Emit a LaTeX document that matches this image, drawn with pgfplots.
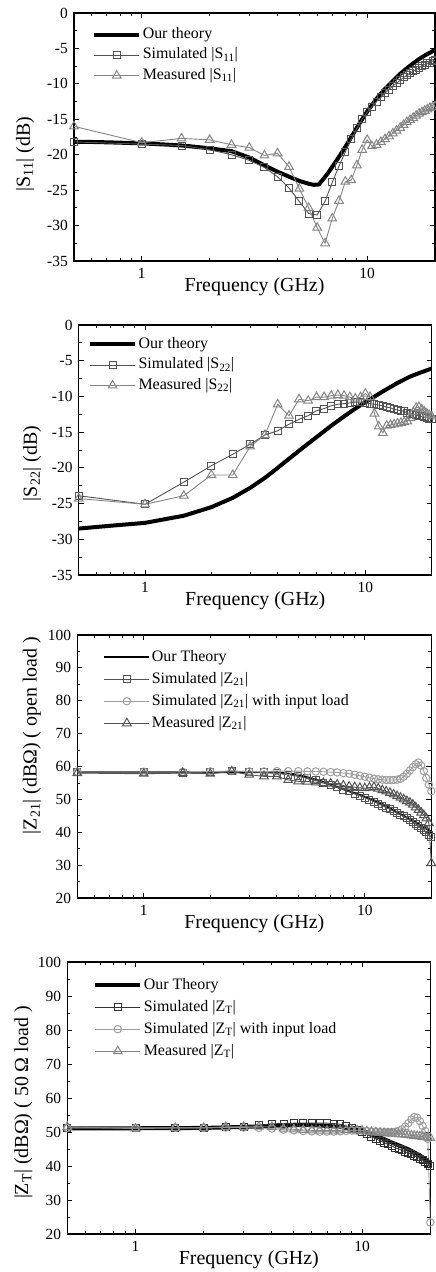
\documentclass[border=0pt]{standalone}
\usepackage{fontspec}
\setmainfont{Liberation Serif}
\usepackage{pgfplots}
\usepackage{pgfplotstable}
\pgfplotsset{compat=1.18}

\definecolor{simc}{gray}{0.33}
\definecolor{measc}{gray}{0.52}
\definecolor{circc}{gray}{0.62}

% ---------------- Panel 1: |S11| ----------------
\pgfplotstableread{
f v
0.5 -18.2
0.6 -18.2
0.7 -18.25
0.8 -18.3
1 -18.4
1.25 -18.55
1.5 -18.7
1.75 -18.9
2 -19.1
2.5 -19.5
3 -20.4
3.5 -21.5
4 -22.4
4.5 -23.1
5 -23.7
5.5 -24.1
5.8 -24.25
6.1 -24.2
6.4 -23.4
6.7 -22.6
7 -21.7
7.5 -20.3
8 -18.9
8.5 -17.5
9 -16.2
9.5 -15.0
10 -13.9
11 -12.1
12 -10.7
13 -9.6
14 -8.6
15 -7.8
16 -7.1
17 -6.5
18 -6.0
19 -5.6
20 -5.2
}\theoryA

\pgfplotstableread{
f sim meas
0.5 -18.2 -16.0
1.0 -18.5 -18.3
1.5 -18.7 -17.7
2.0 -19.3 -17.9
2.5 -20.0 -18.6
3.0 -20.8 -19.0
3.5 -21.8 -20.1
4.0 -23.1 -19.8
4.5 -24.7 -21.7
5.0 -26.6 -24.8
5.5 -28.3 -27.5
6.0 -28.5 -30.3
6.5 -26.6 -32.5
7.0 -23.9 -29.0
7.5 -21.6 -26.5
8.0 -19.6 -23.8
8.5 -17.8 -23.6
9.0 -16.3 -21.5
9.5 -15.0 -19.3
10.0 -14.0 -17.9
10.5 -13.2 -18.8
11.0 -12.5 -18.6
11.5 -11.9 -18.2
12.0 -11.3 -17.8
12.5 -10.8 -17.4
13.0 -10.3 -17.0
13.5 -9.9 -16.6
14.0 -9.5 -16.2
14.5 -9.1 -15.8
15.0 -8.8 -15.4
15.5 -8.5 -15.1
16.0 -8.2 -14.8
16.5 -8.0 -14.5
17.0 -7.7 -14.2
17.5 -7.5 -14.0
18.0 -7.3 -13.8
18.5 -7.1 -13.6
19.0 -7.0 -13.4
19.5 -6.8 -13.3
20.0 -6.7 -13.2
}\dataA

% ---------------- Panel 2: |S22| ----------------
\pgfplotstableread{
f v
0.5 -28.5
0.7 -28.1
1 -27.7
1.5 -26.7
2 -25.5
2.5 -24.2
3 -22.8
3.5 -21.4
4 -20.0
5 -17.6
6 -15.7
7 -14.1
8 -12.8
9 -11.7
10 -10.8
12 -9.3
14 -8.1
16 -7.2
18 -6.6
20 -6.1
}\theoryB

\pgfplotstableread{
f sim meas
0.5 -23.9 -24.3
1.0 -25.1 -25.1
1.5 -22.0 -23.9
2.0 -19.7 -21.0
2.5 -18.1 -21.0
3.0 -16.7 -17.0
3.5 -15.4 -15.4
4.0 -14.8 -11.1
4.5 -13.9 -12.7
5.0 -13.2 -10.4
5.5 -12.7 -10.6
6.0 -12.0 -10.1
6.5 -11.7 -10.1
7.0 -11.3 -9.9
7.5 -11.1 -9.8
8.0 -11.0 -9.9
8.5 -10.9 -10.1
9.0 -10.8 -10.3
9.5 -10.8 -10.1
10.0 -10.9 -9.6
10.5 -11.0 -10.1
11.0 -11.1 -12.4
11.5 -11.2 -14.2
12.0 -11.3 -15.1
12.5 -11.5 -14.1
13.0 -11.6 -14.0
13.5 -11.8 -13.9
14.0 -11.9 -13.8
14.5 -12.0 -13.7
15.0 -12.1 -13.6
15.5 -12.3 -13.5
16.0 -12.4 -13.0
16.5 -12.5 -12.2
17.0 -12.6 -11.6
17.5 -12.7 -11.5
18.0 -12.8 -11.8
18.5 -12.9 -12.1
19.0 -13.0 -12.4
19.5 -13.1 -12.6
20.0 -13.2 -12.8
}\dataB

% ---------------- Panel 3: |Z21| open load ----------------
\pgfplotstableread{
f v
0.5 58.3
1 58.3
2 58.3
3 58.3
4 58.2
5 57.5
6 56.0
7 54.5
8 53.1
9 51.9
10 50.8
11 49.7
12 48.6
13 47.3
14 46.0
15 45.0
16 44.0
17 43.0
18 42.0
19 41.1
20 40.2
}\theoryC

\pgfplotstableread{
f sim circ meas
0.5 58.2 58.4 58.0
1.0 58.2 58.4 57.8
1.5 58.1 58.4 58.0
2.0 58.3 58.5 57.8
2.5 58.6 58.6 58.5
3.0 58.3 58.5 57.5
3.5 58.2 58.5 57.0
4.0 58.0 58.6 57.0
4.5 57.5 58.6 55.9
5.0 57.0 58.6 55.5
5.5 56.4 58.5 55.4
6.0 55.8 58.5 55.2
6.5 55.1 58.4 55.0
7.0 54.4 58.3 54.8
7.5 53.7 58.2 54.5
8.0 53.0 58.0 54.2
8.5 52.4 57.8 53.9
9.0 51.7 57.5 53.7
9.5 51.1 57.2 53.5
10.0 50.5 56.9 53.4
10.5 49.9 56.6 53.6
11.0 49.3 56.3 53.7
11.5 48.7 56.1 53.3
12.0 48.1 56.0 52.8
12.5 47.5 55.9 52.4
13.0 47.0 55.9 52.0
13.5 46.4 55.9 51.5
14.0 45.9 56.0 51.0
14.5 45.3 56.3 50.5
15.0 44.8 56.9 50.0
15.5 44.2 57.8 49.5
16.0 43.6 58.8 49.0
16.5 43.1 59.8 48.4
17.0 42.5 60.7 47.6
17.5 41.9 61.2 46.8
18.0 41.3 60.3 46.0
18.5 40.7 58.6 45.2
19.0 40.0 56.5 44.2
19.5 39.3 54.5 42.8
20.0 38.5 52.5 30.6
}\dataC

% ---------------- Panel 4: |ZT| 50 ohm load ----------------
\pgfplotstableread{
f v
0.5 51.1
1 51.1
2 51.2
3 51.5
4 51.8
5 52.0
6 52.0
7 51.8
8 51.5
9 51.0
10 50.3
11 49.4
12 48.4
13 47.4
14 46.5
15 45.7
16 44.9
17 44.0
18 43.1
19 42.0
20 40.8
}\theoryD

\pgfplotstableread{
f sim circ meas
0.5 51.2 51.2 51.5
1.0 51.2 51.2 51.0
1.5 51.2 51.2 51.2
2.0 51.3 51.2 51.2
2.5 51.5 51.3 51.5
3.0 51.6 51.3 51.5
3.5 52.0 51.2 51.6
4.0 52.4 51.0 51.5
4.5 52.5 50.7 51.0
5.0 52.6 50.5 50.8
5.5 52.6 50.3 50.6
6.0 52.6 50.2 50.5
6.5 52.6 50.1 50.4
7.0 52.6 50.1 50.4
7.5 52.5 50.1 50.4
8.0 52.3 50.2 50.5
8.5 51.8 50.3 50.6
9.0 51.2 50.4 50.6
9.5 50.6 50.4 50.5
10.0 50.0 50.4 50.4
10.5 49.3 50.3 50.2
11.0 48.6 50.2 50.0
11.5 48.0 50.1 49.9
12.0 47.4 50.0 49.8
12.5 46.9 50.0 49.7
13.0 46.4 50.0 49.6
13.5 45.9 50.0 49.5
14.0 45.4 50.1 49.5
14.5 45.0 50.3 49.4
15.0 44.6 50.8 49.3
15.5 44.2 51.6 49.2
16.0 43.8 52.6 49.1
16.5 43.4 53.7 49.0
17.0 43.0 54.4 48.9
17.5 42.6 54.2 48.8
18.0 42.2 53.2 48.7
18.5 41.7 51.8 48.6
19.0 41.2 50.3 48.5
19.5 40.6 48.0 48.4
20.0 40.0 23.4 48.3
}\dataD

\pgfplotsset{
  legend image code/.code={%
    \draw[mark repeat=2,mark phase=2,#1] plot coordinates {(0bp,0bp) (22.5bp,0bp) (45bp,0bp)};},
  panel/.style={
    scale only axis,
    xmin=0.5, xmax=20,
    xtick={1,10}, xticklabels={1,10},
    minor xtick={0.5,0.6,0.7,0.8,0.9,2,3,4,5,6,7,8,9,20},
    minor y tick num=1,
    tick align=inside,
    major tick length=5bp, minor tick length=3bp,
    axis line style={line width=1.1bp, black},
    every tick/.style={line width=0.9bp, black},
    /pgf/number format/assume math mode=true,
    tick label style={font=\fontsize{15.5}{17}\selectfont, inner sep=0pt},
    xticklabel style={yshift=-7bp},
    yticklabel style={xshift=-6bp},
    label style={font=\fontsize{20}{22}\selectfont, inner sep=0pt},
    xlabel style={at={(axis description cs:0.5,0)}, anchor=north, yshift=-16bp},
    ylabel style={anchor=center},
    legend cell align=left,
    legend style={draw=none, fill=none, anchor=north west, inner sep=0pt,
      font=\fontsize{16}{18}\selectfont,
      nodes={inner xsep=1.5bp, inner ysep=2bp, text height=12bp, text depth=4.5bp}},
    xlabel={Frequency (GHz)},
  },
  theory/.style={black, line width=#1},
  sim/.style={simc, line width=0.9bp, mark=square, mark size=3.5bp, mark options={fill=white, solid, line width=1bp}},
  meas/.style={measc, line width=0.9bp, mark=triangle, mark size=5bp, mark options={fill=white, solid, line width=1bp}},
  circ/.style={circc, line width=0.9bp, mark=o, mark size=3.7bp, mark options={fill=white, solid, line width=1bp}},
}

\begin{document}
\begin{tikzpicture}
\useasboundingbox (0,0) rectangle (436bp,-1272bp);

% Panel 1
\begin{semilogxaxis}[panel, at={(74bp,-261bp)}, anchor=south west,
  width=361bp, height=248bp,
  ymin=-35, ymax=0, ytick={-35,-30,...,0},
  ylabel={|S\textsubscript{11}| (dB)},
  ylabel style={at={(axis description cs:-0.1357,0.431)}},
  legend style={at={(axis description cs:0.05,0.955)}}]
\addplot[theory=4bp] table[x=f,y=v] {\theoryA};
\addlegendentry{Our theory}
\addplot[sim] table[x=f,y=sim] {\dataA};
\addlegendentry{Simulated |S\textsubscript{11}|}
\addplot[meas] table[x=f,y=meas] {\dataA};
\addlegendentry{Measured |S\textsubscript{11}|}
\end{semilogxaxis}

% Panel 2
\begin{semilogxaxis}[panel, at={(78.7bp,-575bp)}, anchor=south west,
  width=353bp, height=250bp,
  ymin=-35, ymax=0, ytick={-35,-30,...,0},
  ylabel={|S\textsubscript{22}| (dB)},
  ylabel style={at={(axis description cs:-0.1323,0.446)}},
  legend style={at={(axis description cs:0.026,0.964)}}]
\addplot[theory=4bp] table[x=f,y=v] {\theoryB};
\addlegendentry{Our theory}
\addplot[sim] table[x=f,y=sim] {\dataB};
\addlegendentry{Simulated |S\textsubscript{22}|}
\addplot[meas] table[x=f,y=meas] {\dataB};
\addlegendentry{Measured |S\textsubscript{22}|}
\end{semilogxaxis}

% Panel 3
\begin{semilogxaxis}[panel, at={(77.3bp,-898bp)}, anchor=south west,
  width=354bp, height=263bp,
  ymin=20, ymax=100, ytick={20,30,...,100},
  ylabel={|Z\textsubscript{21}| (dBΩ) ( open load )},
  ylabel style={at={(axis description cs:-0.128,0.618)}},
  legend style={at={(axis description cs:0.073,0.958)},
    nodes={text height=13bp, text depth=5bp}}]
\addplot[theory=2bp] table[x=f,y=v] {\theoryC};
\addlegendentry{Our Theory}
\addplot[sim] table[x=f,y=sim] {\dataC};
\addlegendentry{Simulated |Z\textsubscript{21}|}
\addplot[circ] table[x=f,y=circ] {\dataC};
\addlegendentry{Simulated |Z\textsubscript{21}| with input load}
\addplot[meas, color=simc] table[x=f,y=meas] {\dataC};
\addlegendentry{Measured |Z\textsubscript{21}|}
\end{semilogxaxis}

% Panel 4
\begin{semilogxaxis}[panel, at={(67.3bp,-1234bp)}, anchor=south west,
  width=363bp, height=272bp,
  ymin=20, ymax=100, ytick={20,30,...,100},
  ylabel={|Z\textsubscript{T}| (dBΩ) ( 50 Ω load )},
  ylabel style={at={(axis description cs:-0.1207,0.483)}},
  legend style={at={(axis description cs:0.071,0.956)},
    nodes={text height=13bp, text depth=5bp}}]
\addplot[theory=4bp] table[x=f,y=v] {\theoryD};
\addlegendentry{Our Theory}
\addplot[sim, color=black!80] table[x=f,y=sim] {\dataD};
\addlegendentry{Simulated |Z\textsubscript{T}|}
\addplot[circ] table[x=f,y=circ] {\dataD};
\addlegendentry{Simulated |Z\textsubscript{T}| with input load}
\addplot[meas] table[x=f,y=meas] {\dataD};
\addlegendentry{Measured |Z\textsubscript{T}|}
\end{semilogxaxis}
\end{tikzpicture}
\end{document}
